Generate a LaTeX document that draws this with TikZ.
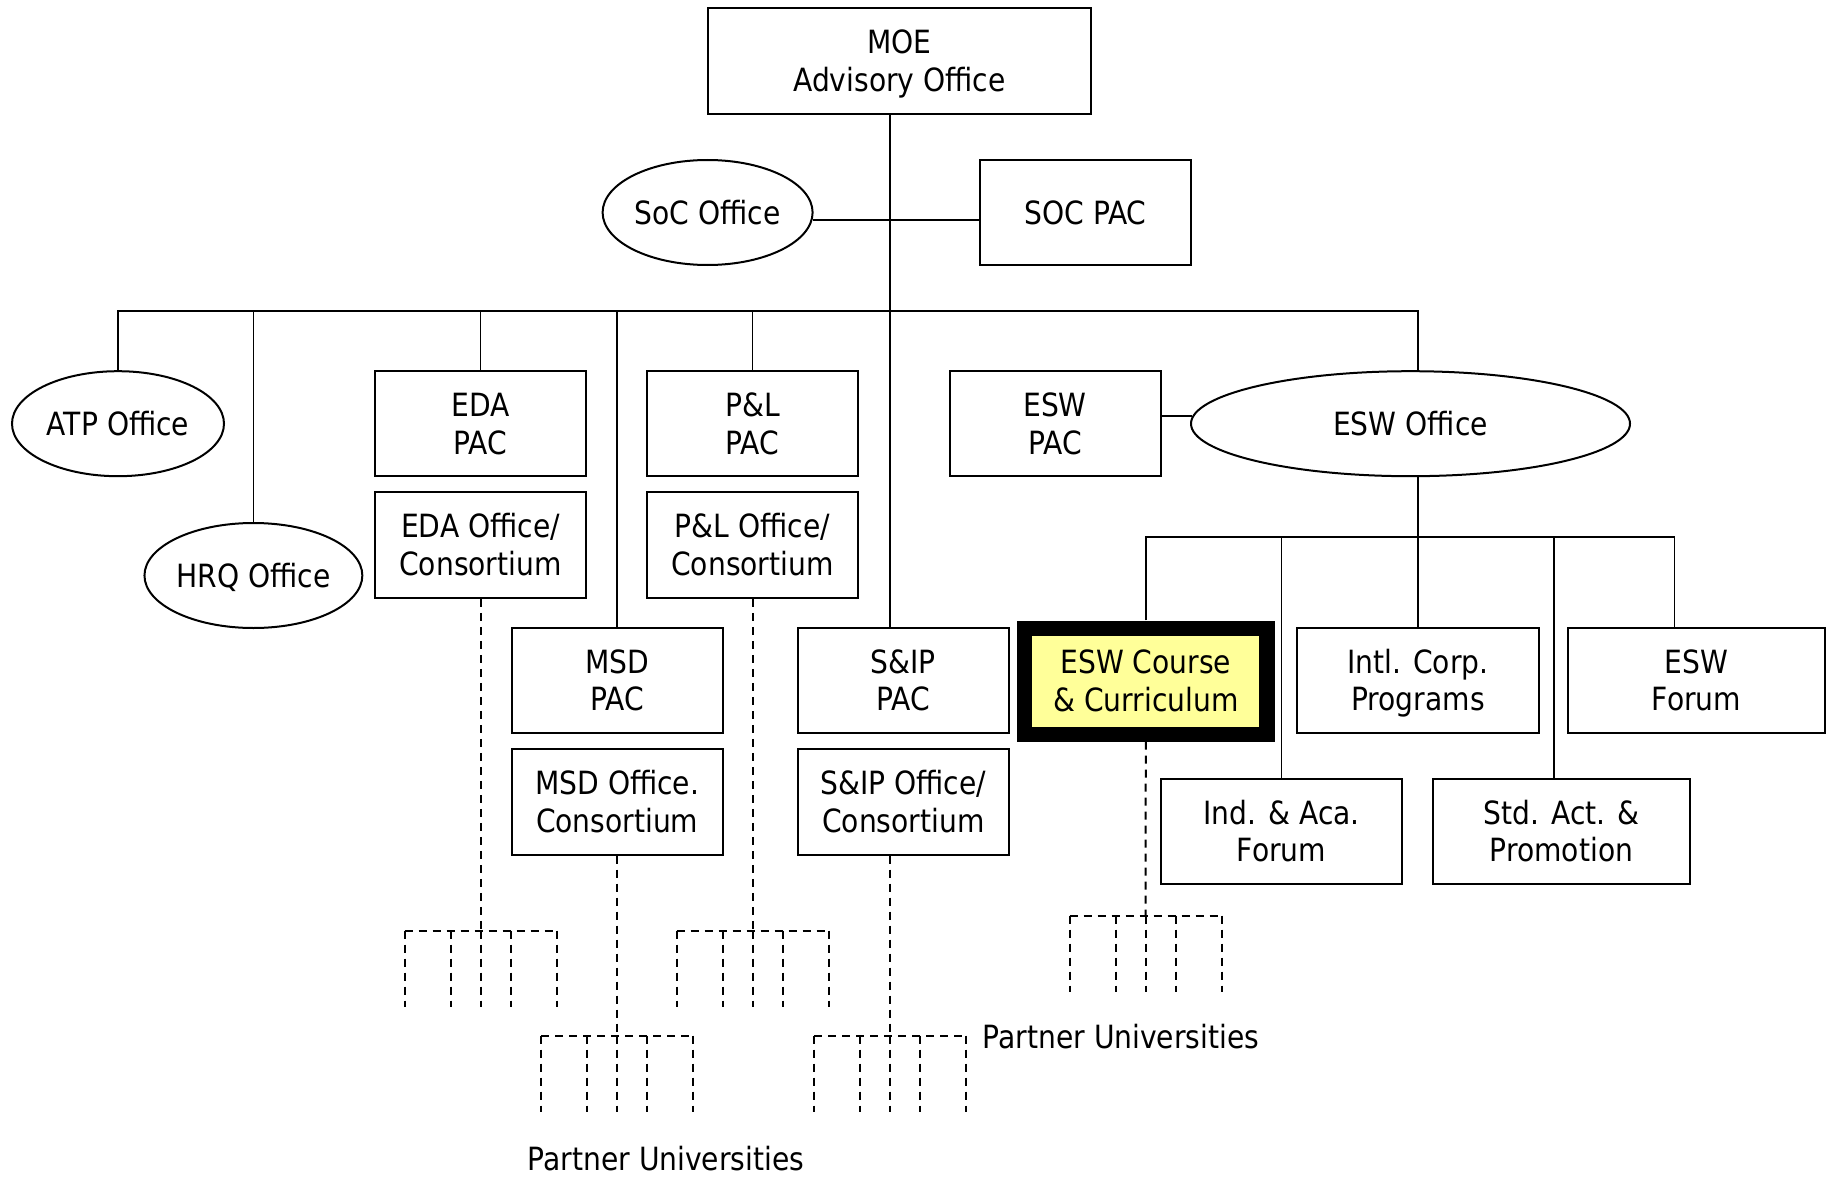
\documentclass[tikz,border=0pt]{standalone}
\usepackage{fontspec}
\setmainfont{DejaVu Sans}[FakeStretch=0.88]
\usetikzlibrary{shapes.geometric}
\definecolor{hilite}{RGB}{255,255,153}

% balanced struts: the cap-top-to-baseline span of a label is centred in its node
\newcommand\lbl[1]{\rule{0pt}{0.98em}#1\rule[-0.25em]{0pt}{0.25em}}

\begin{document}
\begin{tikzpicture}[x=1pt,y=-1pt,
  every node/.style={font=\fontsize{32}{37.5}\selectfont, align=center, inner sep=0pt},
  pbox/.style={draw, line width=2pt, minimum width=211pt, minimum height=105pt},
  poval/.style={draw, ellipse, line width=2pt, minimum width=212pt, minimum height=105pt},
  link/.style={line width=1.8pt},
  uni/.style={line width=2pt, dash pattern=on 8pt off 6pt},
  fanout/.pic={
    \draw[uni] (-76,0) -- (76,0);
    \foreach \dx in {-76,-30,0,30,76} \draw[uni] (\dx,0) -- (\dx,76);
  }
]
\useasboundingbox (0,0) rectangle (1831,1177);

% ---- top level
\node[pbox, minimum width=383pt, minimum height=106pt] (moe) at (899.5,61) {\lbl{MOE\\Advisory Office}};
\node[poval, minimum width=210pt] (soc) at (707.6,212.5) {\lbl{SoC Office}};
\node[pbox] (socpac) at (1085.5,212.5) {\lbl{SOC PAC}};

% ---- second level
\node[poval] (atp) at (118,423.7) {\lbl{ATP Office}};
\node[poval] (hrq) at (253.4,575.5) {\lbl{HRQ Office}};
\node[pbox] (edapac) at (480.5,423.7) {\lbl{EDA\\PAC}};
\node[pbox, minimum height=106pt] (edaoff) at (480.5,544.8) {\lbl{EDA Office/\\Consortium}};
\node[pbox] (plpac) at (752.5,423.7) {\lbl{P\&L\\PAC}};
\node[pbox, minimum height=106pt] (ploff) at (752.5,544.8) {\lbl{P\&L Office/\\Consortium}};
\node[pbox] (eswpac) at (1055,423.7) {\lbl{ESW\\PAC}};
\node[poval, minimum width=439pt] (eswoff) at (1410.5,423.7) {\lbl{ESW Office}};
\node[pbox] (msdpac) at (617.2,680.5) {\lbl{MSD\\PAC}};
\node[pbox, minimum height=106pt] (msdoff) at (617.2,801.6) {\lbl{MSD Office.\\Consortium}};
\node[pbox] (sippac) at (903.3,680.5) {\lbl{S\&IP\\PAC}};
\node[pbox, minimum height=106pt] (sipoff) at (903.3,801.6) {\lbl{S\&IP Office/\\Consortium}};

% ---- ESW units
\node[fill=black, minimum width=258pt, minimum height=121pt] (eswcc) at (1145.8,681) {};
\node[fill=hilite, minimum width=227pt, minimum height=91pt] (eswcctext) at (eswcc.center) {\lbl{ESW Course\\\& Curriculum}};
\node[pbox, minimum width=242pt] (intl) at (1418,680.5) {\lbl{Intl. Corp.\\Programs}};
\node[pbox, minimum width=257pt] (eswforum) at (1696.5,680.5) {\lbl{ESW\\Forum}};
\node[pbox, minimum width=241pt] (indaca) at (1281.5,831.5) {\lbl{Ind. \& Aca.\\Forum}};
\node[pbox, minimum width=257pt] (stdact) at (1561.5,831.5) {\lbl{Std. Act. \&\\Promotion}};

% ---- partner university labels
\node[anchor=base] (pu1) at (1121,1048) {Partner Universities};
\node[anchor=base] (pu2) at (666,1170) {Partner Universities};

% ---- solid connectors
\coordinate (trunk) at (890,310.6);
\coordinate (busR) at (1417.6,310.6);
\draw[link] (moe.south -| trunk) -- (sippac.north -| trunk);
\draw[link] (soc.-4) -- (soc.-4 -| socpac.west);
\draw[link] (atp.north) |- (busR) -- (busR |- eswoff.north);
\draw[link] (hrq.north) -- (hrq.north |- trunk);
\draw[link] (edapac.north) -- (edapac.north |- trunk);
\draw[link] (msdpac.north) -- (msdpac.north |- trunk);
\draw[link] (plpac.north) -- (plpac.north |- trunk);
\draw[link] (eswoff.178) -- (eswoff.178 -| eswpac.east);

\coordinate (eswbus) at (1417.6,537);
\coordinate (eswbusR) at (1674.5,537);
\coordinate (stdx) at (1554,537);
\draw[link] (eswoff.south -| eswbus) -- (eswbus);
\draw[link] (eswcc.north) |- (eswbusR) -- (eswbusR |- eswforum.north);
\draw[link] (indaca.north) -- (indaca.north |- eswbus);
\draw[link] (intl.north) -- (intl.north |- eswbus);
\draw[link] (stdx) -- (stdx |- stdact.north);

% ---- dashed links to partner universities
\coordinate (edafan) at (480.5,930.7);
\coordinate (plfan) at (752.5,930.7);
\coordinate (msdfan) at (617.2,1035.7);
\coordinate (sipfan) at (890,1035.7);
\coordinate (eswfan) at (1145.5,915.5);
\draw[uni] (edaoff.south) -- (edafan);
\draw[uni] (ploff.south) -- (plfan);
\draw[uni] (msdoff.south) -- (msdfan);
\draw[uni] (sipoff.south -| sipfan) -- (sipfan);
\draw[uni] (eswcc.south) -- (eswfan);
\pic at (edafan) {fanout};
\pic at (plfan) {fanout};
\pic at (msdfan) {fanout};
\pic at (sipfan) {fanout};
\pic at (eswfan) {fanout};
\end{tikzpicture}
\end{document}
